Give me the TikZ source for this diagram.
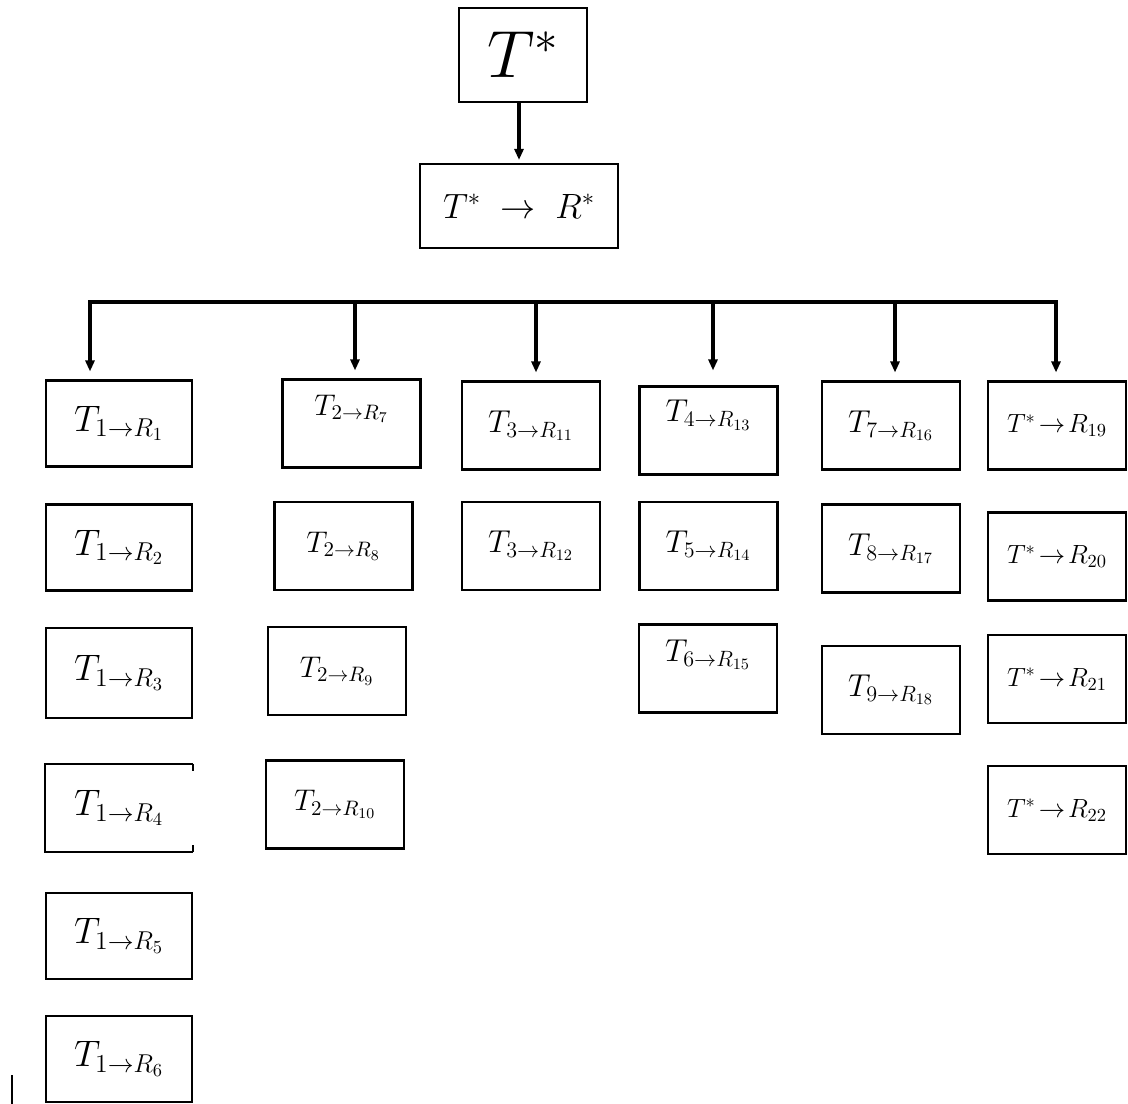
\RequirePackage{fix-cm}
\documentclass[tikz,border=0pt]{standalone}
\usepackage{amsmath,amssymb}
\usetikzlibrary{arrows.meta}

\begin{document}
\begin{tikzpicture}[
        x=0.02cm, y=-0.02cm,
        box/.style={draw, line width=1.2pt, minimum width=2.76cm, minimum height=1.76cm, inner sep=0pt, align=center, font=\fontsize{18}{20}\selectfont},
        wbox/.style={box, minimum width=2.92cm, minimum height=1.72cm, font=\fontsize{21}{24}\selectfont},
        sbox/.style={box, font=\fontsize{17}{19}\selectfont},
        tbox/.style={box, font=\fontsize{15}{17}\selectfont},
        arr/.style={-{Triangle[length=2.2mm,width=1.8mm]}, line width=2.2pt, shorten >=0.16cm},
        bus/.style={line width=2.6pt, line cap=rect}
    ]
    \useasboundingbox (0,0) rectangle (1128,1104);
    \node[box, minimum width=2.56cm, minimum height=1.88cm, font=\fontsize{38}{42}\selectfont] (ts) at (523,55) {$T^{*}$};
    \node[box, minimum width=3.96cm, minimum height=1.68cm, font=\fontsize{20}{22}\selectfont] (tr) at (519,206) {$T^{*}\;\rightarrow\;R^{*}$};

    \node[wbox] (r1) at (119,423.5) {$T_{1\rightarrow R_1}$};
    \node[wbox] (r2) at (119,547.5) {$T_{1\rightarrow R_2}$};
    \node[wbox, minimum height=1.8cm] (r3) at (119,673) {$T_{1\rightarrow R_3}$};
    \node[wbox, draw=none] (r4) at (119,808) {$T_{1\rightarrow R_4}$};
    \node[wbox] (r5) at (119,936) {$T_{1\rightarrow R_5}$};
    \node[wbox] (r6) at (119,1059) {$T_{1\rightarrow R_6}$};

    \node[sbox] (r7) at (351.5,423.5) {$T_{2\rightarrow R_7}$\\[2pt]};
    \node[sbox] (r8) at (343.5,546) {$T_{2\rightarrow R_8}$};
    \node[sbox] (r9) at (337,671) {$T_{2\rightarrow R_9}$};
    \node[sbox] (r10) at (335,804.5) {$T_{2\rightarrow R_{10}}$};

    \node[box] (r11) at (531,425.5) {$T_{3\rightarrow R_{11}}$};
    \node[box] (r12) at (531,546) {$T_{3\rightarrow R_{12}}$};

    \node[box] (r13) at (708.5,430.5) {$T_{4\rightarrow R_{13}}$\\[2pt]};
    \node[box] (r14) at (708.5,546) {$T_{5\rightarrow R_{14}}$};
    \node[box] (r15) at (708,668.5) {$T_{6\rightarrow R_{15}}$\\[0pt]};

    \node[box] (r16) at (891,425.5) {$T_{7\rightarrow R_{16}}$};
    \node[box] (r17) at (891,548.5) {$T_{8\rightarrow R_{17}}$};
    \node[box] (r18) at (891,690) {$T_{9\rightarrow R_{18}}$};

    \node[tbox] (r19) at (1057,425.5) {$T^{*}\!\rightarrow\! R_{19}$};
    \node[tbox] (r20) at (1057,556.5) {$T^{*}\!\rightarrow\! R_{20}$};
    \node[tbox] (r21) at (1057,679) {$T^{*}\!\rightarrow\! R_{21}$};
    \node[tbox] (r22) at (1057,810) {$T^{*}\!\rightarrow\! R_{22}$};

    \draw[line width=1.2pt] (r4.north east) -- (r4.north west) -- (r4.south west) -- (r4.south east);
    \draw[line width=1.2pt] (r4.north east) -- ([yshift=-0.14cm]r4.north east);
    \draw[line width=1.2pt] (r4.south east) -- ([yshift=0.14cm]r4.south east);

    \coordinate (b1) at (90,302);
    \coordinate (b2) at (355,302);
    \coordinate (b3) at (536,302);
    \coordinate (b4) at (713,302);
    \coordinate (b5) at (895,302);
    \coordinate (b6) at (1056,302);
    \draw[bus] (b1) -- (b6);

    \draw[arr, shorten >=0.06cm] (ts.south -| tr.north) -- (tr.north);
    \draw[arr] (b1) -- (b1 |- r1.north);
    \draw[arr] (b2) -- (b2 |- r7.north);
    \draw[arr] (b3) -- (b3 |- r11.north);
    \draw[arr, shorten >=0.3cm] (b4) -- (b4 |- r13.north);
    \draw[arr] (b5) -- (b5 |- r16.north);
    \draw[arr] (b6) -- (b6 |- r19.north);

    \coordinate (m1) at (12,1075);
    \coordinate (m2) at (12,1104);
    \draw[line width=1pt] (m1) -- (m2);
\end{tikzpicture}
\end{document}
